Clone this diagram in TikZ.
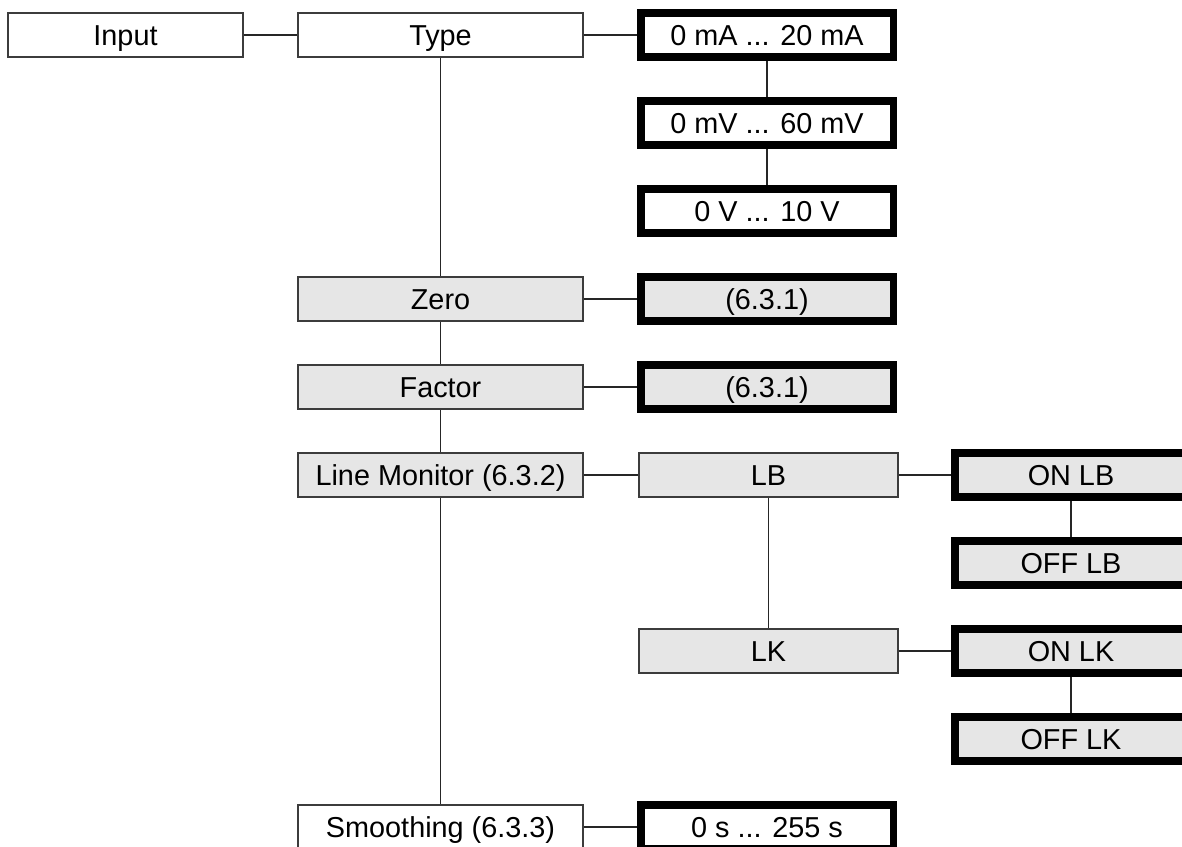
\documentclass[tikz,border=0pt]{standalone}
\usepackage{fontspec}
\setmainfont{Liberation Sans}
\definecolor{menuGray}{RGB}{230,230,230}
\definecolor{menuLine}{RGB}{60,60,60}
\usetikzlibrary{positioning}

\begin{document}
\begin{tikzpicture}[x=0.2mm, y=-0.2mm,
    item/.style={rectangle, draw=menuLine, fill=white, line width=0.4mm,
                 minimum height=8.8mm, inner sep=0pt,
                 text height=11.7pt, text depth=0pt,
                 font=\fontsize{16.4}{19}\selectfont},
    menu/.style={item, fill=menuGray},
    value/.style={item, draw=black, line width=1.5mm},
    link/.style={draw=black!85, line width=0.3mm}
  ]
  \useasboundingbox (0,0) rectangle (1182,847);
  \def\yy{88}
  % first column
  \node[item, minimum width=47mm] (input) at (125.5, 35) {Input};

  % menu column
  \node[item, minimum width=57mm] (type)      at (440.5, 35)        {Type};
  \node[menu, minimum width=57mm] (zero)      at (440.5, 35+3*\yy)  {Zero};
  \node[menu, minimum width=57mm] (factor)    at (440.5, 35+4*\yy)  {Factor};
  \node[menu, minimum width=57mm] (linemon)   at (440.5, 35+5*\yy)  {Line Monitor (6.3.2)};
  \node[item, minimum width=57mm] (smoothing) at (440.5, 35+9*\yy)  {Smoothing (6.3.3)};

  % values
  \node[value, minimum width=50.5mm] (ma) at (767, 35)         {0 mA ... 20 mA};
  \node[value, minimum width=50.5mm] (mv) at (767, 35+\yy)     {0 mV ... 60 mV};
  \node[value, minimum width=50.5mm] (vv) at (767, 35+2*\yy)   {0 V ... 10 V};
  \node[value, fill=menuGray, minimum width=50.5mm] (zeroval)   at (767, 35+3*\yy) {(6.3.1)};
  \node[value, fill=menuGray, minimum width=50.5mm] (factorval) at (767, 35+4*\yy) {(6.3.1)};
  \node[menu, minimum width=51.8mm] (lb) at (768.5, 35+5*\yy) {LB};
  \node[menu, minimum width=51.8mm] (lk) at (768.5, 35+7*\yy) {LK};
  \node[value, minimum width=50.5mm] (secs) at (767, 35+9*\yy) {0 s ... 255 s};

  % line monitor values
  \node[value, fill=menuGray, minimum width=46.5mm] (onlb)  at (1071, 35+5*\yy) {ON LB};
  \node[value, fill=menuGray, minimum width=46.5mm] (offlb) at (1071, 35+6*\yy) {OFF LB};
  \node[value, fill=menuGray, minimum width=46.5mm] (onlk)  at (1071, 35+7*\yy) {ON LK};
  \node[value, fill=menuGray, minimum width=46.5mm] (offlk) at (1071, 35+8*\yy) {OFF LK};

  \draw[link] (input) -- (type);
  \draw[link] (type) -- (ma);
  \draw[link] (ma) -- (mv);
  \draw[link] (mv) -- (vv);
  \draw[link] (type) -- (zero);
  \draw[link] (zero) -- (factor);
  \draw[link] (factor) -- (linemon);
  \draw[link] (linemon) -- (smoothing);
  \draw[link] (zero) -- (zeroval);
  \draw[link] (factor) -- (factorval);
  \draw[link] (linemon) -- (lb);
  \draw[link] (lb) -- (lk);
  \draw[link] (lb) -- (onlb);
  \draw[link] (onlb) -- (offlb);
  \draw[link] (lk) -- (onlk);
  \draw[link] (onlk) -- (offlk);
  \draw[link] (smoothing) -- (secs);
\end{tikzpicture}
\end{document}
